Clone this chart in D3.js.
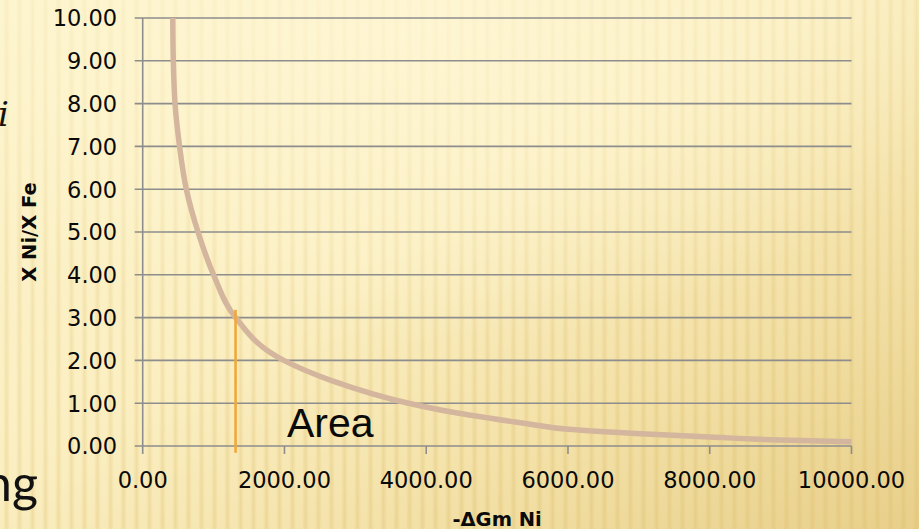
<!DOCTYPE html>
<html>
<head>
<meta charset="utf-8">
<script src="https://cdn.jsdelivr.net/npm/d3@7"></script>
<style>
  html, body { margin: 0; padding: 0; background: #f6e6ad; }
  svg { display: block; }
</style>
</head>
<body>
<svg id="chart" width="919" height="529"></svg>
<script>
// Curve of X Ni / X Fe against -ΔGm Ni
const gibbsEnergy = [424, 432, 456, 520, 615, 780, 1000, 1310, 1990, 2645, 3750, 4340, 5470, 6000, 6880, 8000, 9000, 10000];
const ratioNiFe   = [10.0, 9.0, 8.0, 7.0, 6.0, 5.0, 4.0, 3.0, 2.0, 1.54, 1.0, 0.80, 0.51, 0.39, 0.30, 0.21, 0.14, 0.10];

// Vertical marker bounding the shaded "Area"
const markerEnergy = 1310;
const markerRatio = [-0.16, 3.18];
const areaLabel = "Area";

const xTicks = [0, 2000, 4000, 6000, 8000, 10000];
const yTicks = [0, 1, 2, 3, 4, 5, 6, 7, 8, 9, 10];
const xTitle = "-ΔGm Ni";
const yTitle = "X Ni/X Fe";

const W = 919, H = 529;
const svg = d3.select("#chart");
const defs = svg.append("defs");

// ---- slide background: warm yellow wash with soft vertical stripes ----
const bg = defs.append("linearGradient").attr("id", "bgGrad")
  .attr("x1", "0").attr("y1", "0").attr("x2", "1").attr("y2", "1");
bg.append("stop").attr("offset", "0").attr("stop-color", "#fdf4cc");
bg.append("stop").attr("offset", "0.45").attr("stop-color", "#fbefc2");
bg.append("stop").attr("offset", "0.75").attr("stop-color", "#f2dfa4");
bg.append("stop").attr("offset", "1").attr("stop-color", "#e8cf8a");

const glow = defs.append("radialGradient").attr("id", "glow")
  .attr("cx", "0.45").attr("cy", "0.05").attr("r", "0.6");
glow.append("stop").attr("offset", "0").attr("stop-color", "#fff8d8").attr("stop-opacity", 0.7);
glow.append("stop").attr("offset", "0.7").attr("stop-color", "#fff8d8").attr("stop-opacity", 0.25);
glow.append("stop").attr("offset", "1").attr("stop-color", "#fff8d8").attr("stop-opacity", 0);

const stripeGrad = defs.append("linearGradient").attr("id", "stripeGrad")
  .attr("x1", "0").attr("y1", "0").attr("x2", "1").attr("y2", "0");
[[0, 0], [0.3, 0.55], [0.5, 0.9], [0.7, 0.55], [1, 0]].forEach(([o, a]) =>
  stripeGrad.append("stop").attr("offset", o).attr("stop-color", "#dcbd6a").attr("stop-opacity", a));

const stripes = defs.append("pattern").attr("id", "stripes")
  .attr("patternUnits", "userSpaceOnUse").attr("width", 13).attr("height", 40);
stripes.append("rect").attr("x", 3).attr("width", 7).attr("height", 40).attr("fill", "url(#stripeGrad)");

const fade = defs.append("linearGradient").attr("id", "stripeFade")
  .attr("x1", "0").attr("y1", "0").attr("x2", "0.4").attr("y2", "1");
fade.append("stop").attr("offset", "0").attr("stop-color", "#fff").attr("stop-opacity", 0.4);
fade.append("stop").attr("offset", "1").attr("stop-color", "#fff").attr("stop-opacity", 0.9);
defs.append("mask").attr("id", "stripeMask")
  .append("rect").attr("width", W).attr("height", H).attr("fill", "url(#stripeFade)");

svg.append("rect").attr("width", W).attr("height", H).attr("fill", "url(#bgGrad)");
svg.append("rect").attr("width", W).attr("height", H).attr("fill", "url(#stripes)")
  .attr("opacity", 0.42).attr("mask", "url(#stripeMask)");
svg.append("rect").attr("width", W).attr("height", H).attr("fill", "url(#glow)");

// Fragments of the slide text running behind the chart
svg.append("text").attr("x", -2).attr("y", 126)
  .attr("font-family", "DejaVu Serif").attr("font-style", "italic")
  .attr("font-size", 34).attr("fill", "#111").text("i");
svg.append("text").attr("x", 38).attr("y", 501).attr("text-anchor", "end")
  .attr("font-family", "Lato").attr("font-size", 50).attr("fill", "#111").text("ng");

// ---- chart ----
const x = d3.scaleLinear().domain([0, 10000]).range([142.7, 851.5]);
const y = d3.scaleLinear().domain([0, 10]).range([446, 18]);
const gridColor = "#8d8d8d";
const tickLen = 8;
const fmt = d3.format(".2f");
const font = "DejaVu Sans";

const g = svg.append("g");

// horizontal gridlines (bottom one doubles as the x axis)
g.selectAll("line.grid").data(yTicks).join("line")
  .attr("class", "grid")
  .attr("x1", x.range()[0] - tickLen).attr("x2", x.range()[1])
  .attr("y1", d => y(d)).attr("y2", d => y(d))
  .attr("stroke", gridColor).attr("stroke-width", 1.6);

// y axis line
g.append("line")
  .attr("x1", x(0)).attr("x2", x(0))
  .attr("y1", y(10)).attr("y2", y(0))
  .attr("stroke", gridColor).attr("stroke-width", 1.6);

// x tick marks
g.selectAll("line.xtick").data(xTicks).join("line")
  .attr("class", "xtick")
  .attr("x1", d => x(d)).attr("x2", d => x(d))
  .attr("y1", y(0)).attr("y2", y(0) + tickLen)
  .attr("stroke", gridColor).attr("stroke-width", 1.6);

// tick labels
g.selectAll("text.ylab").data(yTicks).join("text")
  .attr("class", "ylab")
  .attr("x", x.range()[0] - 25.5).attr("y", d => y(d) + 8.3)
  .attr("text-anchor", "end")
  .attr("font-family", font).attr("font-size", 22.5).attr("fill", "#0a0a0a")
  .text(d => fmt(d));

g.selectAll("text.xlab").data(xTicks).join("text")
  .attr("class", "xlab")
  .attr("x", d => x(d)).attr("y", y(0) + 41.5)
  .attr("text-anchor", "middle")
  .attr("font-family", font).attr("font-size", 22.5).attr("fill", "#0a0a0a")
  .text(d => fmt(d));

// axis titles
g.append("text")
  .attr("x", (x.range()[0] + x.range()[1]) / 2).attr("y", 525.5)
  .attr("text-anchor", "middle")
  .attr("font-family", font).attr("font-weight", "bold")
  .attr("font-size", 19.5).attr("fill", "#0a0a0a")
  .text(xTitle);

g.append("text")
  .attr("transform", `translate(36,${(y.range()[0] + y.range()[1]) / 2}) rotate(-90)`)
  .attr("text-anchor", "middle")
  .attr("font-family", font).attr("font-weight", "bold")
  .attr("font-size", 19.5).attr("fill", "#0a0a0a")
  .text(yTitle);

// curve (monotone in y, so points are ordered by ratio for the monotone-y interpolator)
const pts = gibbsEnergy.map((e, i) => [e, ratioNiFe[i]]);
const line = d3.line()
  .x(d => x(d[0])).y(d => y(d[1]))
  .curve(d3.curveMonotoneY);
g.append("path")
  .datum(pts.slice().sort((a, b) => a[1] - b[1]))
  .attr("d", line)
  .attr("fill", "none")
  .attr("stroke", "#d3b69d")
  .attr("stroke-width", 5.5);

// marker line
g.append("line")
  .attr("x1", x(markerEnergy)).attr("x2", x(markerEnergy))
  .attr("y1", y(markerRatio[0])).attr("y2", y(markerRatio[1]))
  .attr("stroke", "#f0a83a").attr("stroke-width", 2.6);

// label
g.append("text")
  .attr("x", 287).attr("y", 437)
  .attr("font-family", "Liberation Sans").attr("font-size", 41).attr("fill", "#0a0a0a")
  .text(areaLabel);
</script>
</body>
</html>
